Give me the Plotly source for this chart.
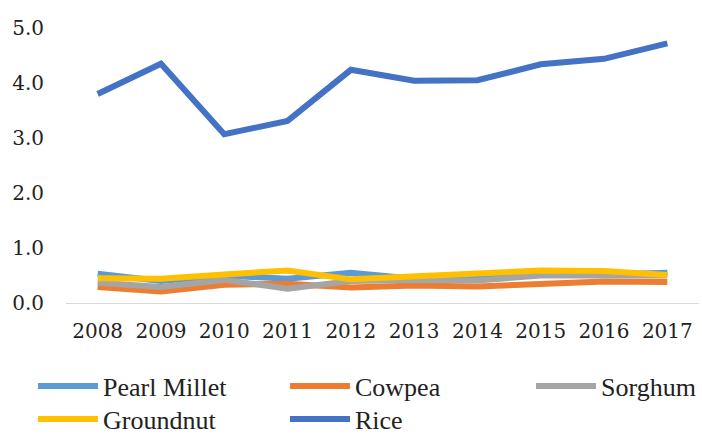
import plotly.graph_objects as go

years = ["2008", "2009", "2010", "2011", "2012", "2013", "2014", "2015", "2016", "2017"]
pearl_millet = [0.53, 0.40, 0.50, 0.44, 0.55, 0.44, 0.45, 0.52, 0.52, 0.55]
cowpea = [0.29, 0.21, 0.33, 0.35, 0.28, 0.32, 0.30, 0.35, 0.39, 0.38]
sorghum = [0.37, 0.29, 0.42, 0.26, 0.40, 0.42, 0.41, 0.50, 0.50, 0.50]
groundnut = [0.45, 0.44, 0.52, 0.59, 0.43, 0.48, 0.52, 0.59, 0.58, 0.51]
rice = [3.80, 4.35, 3.07, 3.31, 4.24, 4.04, 4.05, 4.34, 4.44, 4.72]

series = [
    ("Pearl Millet", pearl_millet, "#5B9BD5", "legend"),
    ("Cowpea", cowpea, "#ED7D31", "legend"),
    ("Sorghum", sorghum, "#A5A5A5", "legend3"),
    ("Groundnut", groundnut, "#FFC000", "legend2"),
    ("Rice", rice, "#4472C4", "legend2"),
]

fig = go.Figure()
for name, vals, color, lg in series:
    fig.add_trace(go.Scatter(x=years, y=vals, name=name, mode="lines", legend=lg,
                             line=dict(color=color, width=6)))

legfont = dict(family="Liberation Serif", size=26, color="#222")
tickfont = dict(family="DejaVu Serif", size=20, color="#222")
common_leg = dict(
    orientation="h", xref="container", yref="container",
    xanchor="left", yanchor="middle",
    entrywidth=177, entrywidthmode="pixels", itemwidth=60,
    font=legfont, traceorder="normal", bgcolor="rgba(0,0,0,0)",
)

fig.update_layout(
    width=702, height=435,
    margin=dict(l=66, r=3, t=28, b=132),
    paper_bgcolor="white", plot_bgcolor="white",
    showlegend=True,
    legend=dict(common_leg, x=33 / 702, y=1 - 386 / 435),
    legend3=dict(common_leg, x=531 / 702, y=1 - 386 / 435, entrywidth=0),
    legend2=dict(common_leg, x=33 / 702, y=1 - 419 / 435),
    xaxis=dict(
        type="category", range=[-0.5, len(years) - 0.5],
        showgrid=False, showline=True, linecolor="#d9d9d9",
        linewidth=1, ticks="", tickfont=tickfont, zeroline=False,
        ticklabelstandoff=10,
    ),
    yaxis=dict(
        range=[0, 5], tickvals=[0, 1, 2, 3, 4, 5], tickformat=".1f",
        showgrid=False, zeroline=False, showline=False, ticks="",
        tickfont=tickfont, ticklabelstandoff=21,
    ),
)

fig.write_html("out.html")
